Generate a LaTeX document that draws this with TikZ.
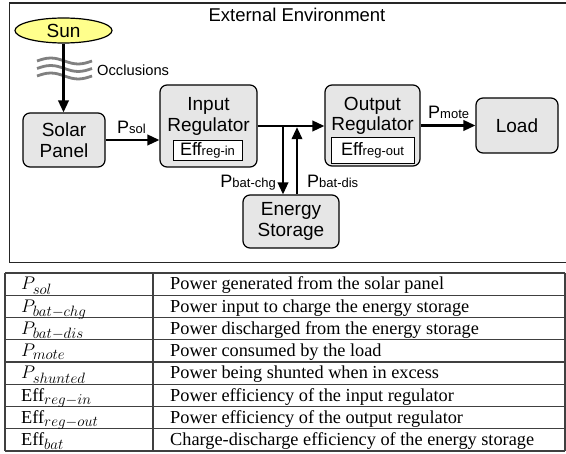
\RequirePackage{fix-cm}
\documentclass[tikz,border=0pt]{standalone}
\usepackage{fontspec}
\setmainfont{Liberation Serif}
\newfontfamily\arialf{Liberation Sans}
\usetikzlibrary{arrows.meta,shapes.geometric}
\DeclareMathSizes{18.3}{18.3}{15}{12}
\definecolor{boxgray}{HTML}{E6E6E6}
\definecolor{sunyel}{HTML}{FFFF8C}
\definecolor{wavegray}{HTML}{808080}
\newcommand\plbl[2]{{\fontsize{18}{20}\selectfont #1}{\fontsize{13}{15}\selectfont #2}}
\begin{document}
\begin{tikzpicture}[x=1pt,y=-1pt,
  blk/.style={draw=black,line width=1.2pt,fill=boxgray,rounded corners=7pt,inner sep=0pt,
    font=\arialf\fontsize{19}{21}\selectfont,align=center},
  tx/.style={font=\arialf\fontsize{19}{21}\selectfont,inner sep=0pt},
  lbl/.style={font=\arialf,inner sep=0pt},
  effbox/.style={draw=black,line width=0.8pt,fill=white,inner sep=0pt,font=\arialf},
  flow/.style={line width=2.2pt,-{Triangle[length=12pt,width=10.5pt]}},
  tbl/.style={font=\fontsize{18.3}{22}\selectfont,inner sep=0pt,anchor=base west},
  tline/.style={line width=1.1pt,black!75}
]
\useasboundingbox (0,0) rectangle (566,454);
\clip (0,0) rectangle (566,454);

% frame
\draw[line width=1.5pt,black!85] (9.5,3) rectangle (570,262.5);
\node[tx,font=\arialf\fontsize{18.5}{20}\selectfont,anchor=base] (title) at (297,21.5) {External Environment};

% sun
\node[ellipse,draw=black,line width=1.2pt,fill=sunyel,minimum width=97pt,minimum height=25pt,inner sep=0pt,
  font=\arialf\fontsize{19}{21}\selectfont] (sun) at (63.5,30.5) {Sun};

% waves
\foreach \yy in {61,68.5,76}{
  \draw[wavegray,line width=2.8pt] (37,\yy) sin (50.75,\yy-3) cos (64.5,\yy) sin (78.25,\yy+3) cos (92,\yy);
}
\node[lbl,font=\arialf\fontsize{14.7}{16}\selectfont,anchor=base west] (occ) at (97,76) {Occlusions};

% blocks
\node[blk,minimum width=82pt,minimum height=54pt] (solar) at (64,140) {Solar\\Panel};
\node[blk,minimum width=97pt,minimum height=82pt] (inreg) at (208.5,126) {};
\node[tx,anchor=base] (inT) at (208.5,110.5) {Input};
\node[tx,anchor=base] (inR) at (208.5,132) {Regulator};
\node[effbox,minimum width=69pt,minimum height=20pt] (effin) at (207.5,150) {\plbl{Eff}{reg-in}};

\node[blk,minimum width=95pt,minimum height=81pt] (outreg) at (372.5,125.5) {};
\node[tx,anchor=base] (outT) at (372.5,111) {Output};
\node[tx,anchor=base] (outR) at (372.5,131) {Regulator};
\node[effbox,minimum width=83pt,minimum height=26pt] (effout) at (372.5,150.5) {\plbl{Eff}{reg-out}};

\node[blk,minimum width=82pt,minimum height=55pt] (load) at (517,125.5) {Load};
\node[blk,minimum width=96pt,minimum height=53pt] (stor) at (291,221.5) {Energy\\Storage};

% connectors
\draw[flow] (sun.south) -- (sun.south |- solar.north);
\draw[flow] (solar.east) -- (solar.east -| inreg.west);
\draw[flow] (inreg.east) -- (inreg.east -| outreg.west);
\draw[flow] (outreg.east) -- (load.west);
\coordinate (j1) at (283,126);
\coordinate (j2) at (297,127.2);
\draw[flow] (j1) -- (j1 |- stor.north);
\draw[flow] (j2 |- stor.north) -- (j2);

% labels
\node[lbl,anchor=base west] (lsol) at (117,133.5) {\plbl{P}{sol}};
\node[lbl,anchor=base west] (lmote) at (428,118.5) {\plbl{P}{mote}};
\node[lbl,anchor=base east] (lchg) at (276,188) {\plbl{P}{bat-chg}};
\node[lbl,anchor=base west] (ldis) at (307,188) {\plbl{P}{bat-dis}};

% table
\foreach \k in {0,...,8}{
  \draw[tline] (5,273+22.25*\k) -- (565,273+22.25*\k);
}
\draw[tline] (5,273) -- (5,451);
\draw[tline] (153,273) -- (153,451);
\draw[tline] (565,273) -- (565,451);

\node[tbl] (a1) at (21,290) {$P_{sol}$};
\node[tbl] (b1) at (170,290) {Power generated from the solar panel};
\node[tbl] (a2) at (21,312.25) {$P_{bat-chg}$};
\node[tbl] (b2) at (170,312.25) {Power input to charge the energy storage};
\node[tbl] (a3) at (21,334.5) {$P_{bat-dis}$};
\node[tbl] (b3) at (170,334.5) {Power discharged from the energy storage};
\node[tbl] (a4) at (21,356.75) {$P_{mote}$};
\node[tbl] (b4) at (170,356.75) {Power consumed by the load};
\node[tbl] (a5) at (21,379) {$P_{shunted}$};
\node[tbl] (b5) at (170,379) {Power being shunted when in excess};
\node[tbl] (a6) at (21,401.25) {Eff$_{reg-in}$};
\node[tbl] (b6) at (170,401.25) {Power efficiency of the input regulator};
\node[tbl] (a7) at (21,423.5) {Eff$_{reg-out}$};
\node[tbl] (b7) at (170,423.5) {Power efficiency of the output regulator};
\node[tbl] (a8) at (21,445.75) {Eff$_{bat}$};
\node[tbl] (b8) at (170,445.75) {Charge-discharge efficiency of the energy storage};
\end{tikzpicture}
\end{document}
